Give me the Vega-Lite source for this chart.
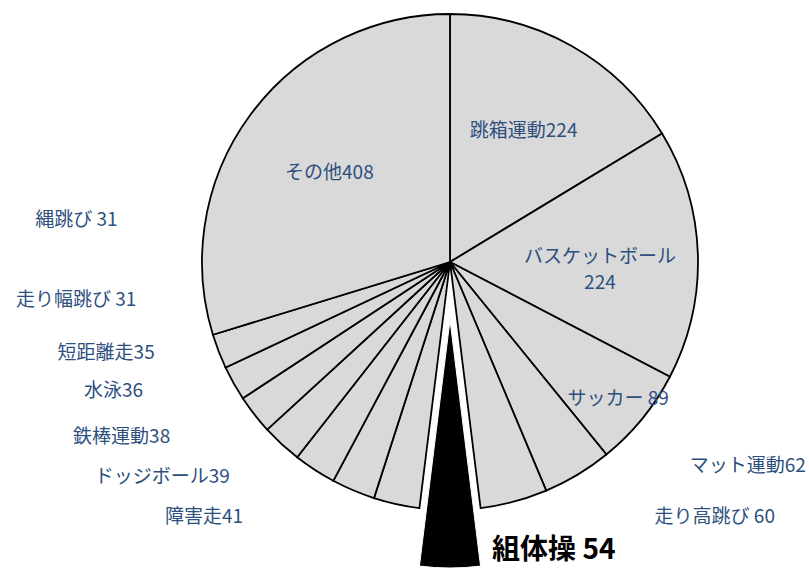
{
  "$schema": "https://vega.github.io/schema/vega-lite/v6.json",
  "width": 718,
  "height": 524,
  "autosize": {"type": "none"},
  "padding": {"left": 91, "top": 0, "right": 0, "bottom": 48},
  "background": "white",
  "data": {"values": [
    {"rank": 1, "name": "跳箱運動", "value": 224, "label": "跳箱運動224"},
    {"rank": 2, "name": "バスケットボール", "value": 224, "label": "バスケットボール\n224"},
    {"rank": 3, "name": "サッカー", "value": 89, "label": "サッカー 89"},
    {"rank": 4, "name": "マット運動", "value": 62, "label": "マット運動62"},
    {"rank": 5, "name": "走り高跳び", "value": 60, "label": "走り高跳び 60"},
    {"rank": 6, "name": "組体操", "value": 54, "label": "組体操 54"},
    {"rank": 7, "name": "障害走", "value": 41, "label": "障害走41"},
    {"rank": 8, "name": "ドッジボール", "value": 39, "label": "ドッジボール39"},
    {"rank": 9, "name": "鉄棒運動", "value": 38, "label": "鉄棒運動38"},
    {"rank": 10, "name": "水泳", "value": 36, "label": "水泳36"},
    {"rank": 11, "name": "短距離走", "value": 35, "label": "短距離走35"},
    {"rank": 12, "name": "走り幅跳び", "value": 31, "label": "走り幅跳び 31"},
    {"rank": 13, "name": "縄跳び", "value": 31, "label": "縄跳び 31"},
    {"rank": 14, "name": "その他", "value": 408, "label": "その他408"}
  ]},
  "encoding": {
    "theta": {"field": "value", "type": "quantitative", "stack": true},
    "order": {"field": "rank", "type": "quantitative"}
  },
  "layer": [
    {
      "mark": {"type": "arc", "outerRadius": 248, "stroke": "black", "strokeWidth": 1.8, "fill": "#d9d9d9"},
      "encoding": {"opacity": {"condition": {"test": "datum.rank == 6", "value": 0}, "value": 1}}
    },
    {
      "mark": {"type": "arc", "outerRadius": 248, "yOffset": 58, "fill": "black", "stroke": "white", "strokeWidth": 1},
      "encoding": {"opacity": {"condition": {"test": "datum.rank == 6", "value": 1}, "value": 0}}
    },
    {
      "mark": {"type": "text", "radius": 150, "font": "Noto Sans CJK JP", "fontSize": 19, "color": "#2E4F7E", "align": "center", "baseline": "middle", "lineBreak": "\n", "lineHeight": 26},
      "encoding": {"text": {"condition": {"test": "datum.rank == 1 || datum.rank == 2 || datum.rank == 14", "field": "label"}, "value": ""}}
    },
    {
      "mark": {"type": "text", "radius": 217, "font": "Noto Sans CJK JP", "fontSize": 19, "color": "#2E4F7E", "align": "center", "baseline": "middle"},
      "encoding": {"text": {"condition": {"test": "datum.rank == 3", "field": "label"}, "value": ""}}
    },
    {
      "mark": {"type": "text", "radius": 328, "thetaOffset": 0.465, "font": "Noto Sans CJK JP", "fontSize": 19, "color": "#2E4F7E", "align": "right", "baseline": "middle"},
      "encoding": {"text": {"condition": {"test": "datum.rank == 7", "field": "label"}, "value": ""}}
    },
    {
      "mark": {"type": "text", "radius": 308, "thetaOffset": 0.396, "font": "Noto Sans CJK JP", "fontSize": 19, "color": "#2E4F7E", "align": "right", "baseline": "middle"},
      "encoding": {"text": {"condition": {"test": "datum.rank == 8", "field": "label"}, "value": ""}}
    },
    {
      "mark": {"type": "text", "radius": 330, "thetaOffset": 0.435, "font": "Noto Sans CJK JP", "fontSize": 19, "color": "#2E4F7E", "align": "right", "baseline": "middle"},
      "encoding": {"text": {"condition": {"test": "datum.rank == 9", "field": "label"}, "value": ""}}
    },
    {
      "mark": {"type": "text", "radius": 333, "thetaOffset": 0.426, "font": "Noto Sans CJK JP", "fontSize": 19, "color": "#2E4F7E", "align": "right", "baseline": "middle"},
      "encoding": {"text": {"condition": {"test": "datum.rank == 10", "field": "label"}, "value": ""}}
    },
    {
      "mark": {"type": "text", "radius": 309, "thetaOffset": 0.363, "font": "Noto Sans CJK JP", "fontSize": 19, "color": "#2E4F7E", "align": "right", "baseline": "middle"},
      "encoding": {"text": {"condition": {"test": "datum.rank == 11", "field": "label"}, "value": ""}}
    },
    {
      "mark": {"type": "text", "radius": 316, "thetaOffset": 0.391, "font": "Noto Sans CJK JP", "fontSize": 19, "color": "#2E4F7E", "align": "right", "baseline": "middle"},
      "encoding": {"text": {"condition": {"test": "datum.rank == 12", "field": "label"}, "value": ""}}
    },
    {
      "mark": {"type": "text", "radius": 335, "thetaOffset": 0.494, "font": "Noto Sans CJK JP", "fontSize": 19, "color": "#2E4F7E", "align": "right", "baseline": "middle"},
      "encoding": {"text": {"condition": {"test": "datum.rank == 13", "field": "label"}, "value": ""}}
    },
    {
      "mark": {"type": "text", "radius": 315, "thetaOffset": -0.325, "font": "Noto Sans CJK JP", "fontSize": 19, "color": "#2E4F7E", "align": "left", "baseline": "middle"},
      "encoding": {"text": {"condition": {"test": "datum.rank == 4", "field": "label"}, "value": ""}}
    },
    {
      "mark": {"type": "text", "radius": 327, "thetaOffset": -0.415, "font": "Noto Sans CJK JP", "fontSize": 19, "color": "#2E4F7E", "align": "left", "baseline": "middle"},
      "encoding": {"text": {"condition": {"test": "datum.rank == 5", "field": "label"}, "value": ""}}
    },
    {
      "mark": {"type": "text", "radius": 235, "thetaOffset": -0.18, "yOffset": 58, "font": "Noto Sans CJK JP", "fontSize": 28, "fontWeight": "bold", "color": "black", "align": "left", "baseline": "middle"},
      "encoding": {"text": {"condition": {"test": "datum.rank == 6", "field": "label"}, "value": ""}}
    }
  ],
  "config": {"view": {"stroke": null}}
}
